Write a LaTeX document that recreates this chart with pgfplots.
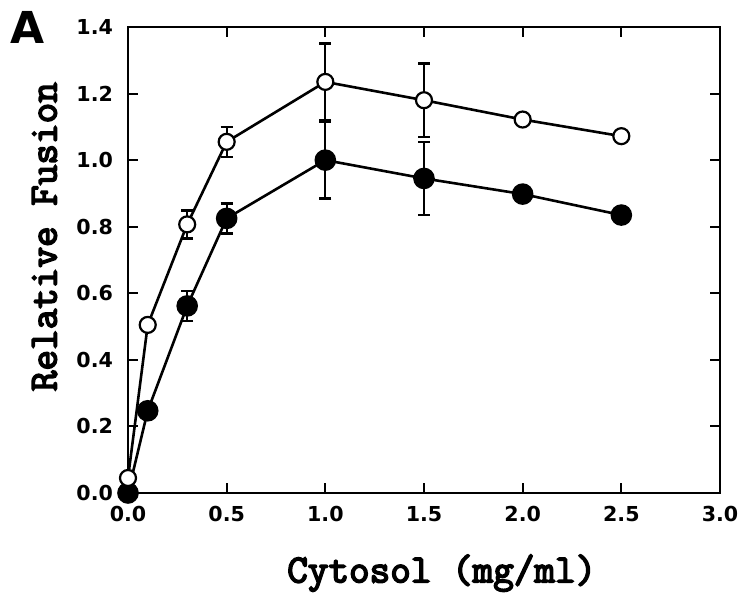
\documentclass[border=0pt]{standalone}
\usepackage{pgfplots}
\pgfplotsset{compat=1.18}
\usepackage{fontspec}
\setmainfont{DejaVu Sans}
\newfontfamily\tickfont{DejaVu Sans}
\newfontfamily\labfont[FakeBold=4]{Latin Modern Mono}
\begin{document}
\begin{tikzpicture}
\useasboundingbox (-64pt,-52pt) rectangle (308.5pt,246.5pt);
\begin{axis}[
  at={(0,0)}, anchor=south west,
  scale only axis, width=296pt, height=233pt,
  xmin=0, xmax=3, ymin=0, ymax=1.4,
  xtick={0,0.5,...,3.0}, ytick={0,0.2,...,1.4},
  xticklabels={0.0,0.5,1.0,1.5,2.0,2.5,3.0},
  yticklabels={0.0,0.2,0.4,0.6,0.8,1.0,1.2,1.4},
  tick align=inside, major tick length=5pt,
  axis line style={line width=1.4pt},
  every tick/.style={line width=1pt, black},
  tick label style={font=\tickfont\bfseries\fontsize{10.3}{11}\selectfont},
  yticklabel style={xshift=-4pt},
  xticklabel style={yshift=-3pt},
  clip=false,
]
\addplot[line width=1.3pt, black, mark=*, mark size=5pt,
  mark options={fill=black, line width=0.8pt},
  error bars/.cd, y dir=both, y explicit,
  error mark options={rotate=90, mark size=3pt, line width=1.2pt},
  error bar style={line width=1.1pt}]
  coordinates {
  (0,0) +- (0,0)
  (0.1,0.247) +- (0,0)
  (0.3,0.562) +- (0,0.045)
  (0.5,0.825) +- (0,0.045)
  (1.0,1.0) +- (0,0.115)
  (1.5,0.945) +- (0,0.11)
  (2.0,0.898) +- (0,0)
  (2.5,0.835) +- (0,0)
  };
\addplot[line width=1.3pt, black, mark=*, mark size=4pt,
  mark options={fill=white, line width=1.1pt},
  error bars/.cd, y dir=both, y explicit,
  error mark options={rotate=90, mark size=3pt, line width=1.2pt},
  error bar style={line width=1.1pt}]
  coordinates {
  (0,0.045) +- (0,0)
  (0.1,0.505) +- (0,0)
  (0.3,0.807) +- (0,0.042)
  (0.5,1.055) +- (0,0.045)
  (1.0,1.235) +- (0,0.115)
  (1.5,1.18) +- (0,0.11)
  (2.0,1.122) +- (0,0)
  (2.5,1.072) +- (0,0)
  };
\node[font=\labfont\fontsize{20}{22}\selectfont] at (axis description cs:0.53,-0.172) {Cytosol (mg/ml)};
\node[font=\labfont\fontsize{20}{22}\selectfont, rotate=90] at (axis description cs:-0.141,0.55) {Relative Fusion};
\end{axis}
\node[font=\bfseries\fontsize{22}{23}\selectfont] at (-50pt,233pt) {A};
\end{tikzpicture}
\end{document}
